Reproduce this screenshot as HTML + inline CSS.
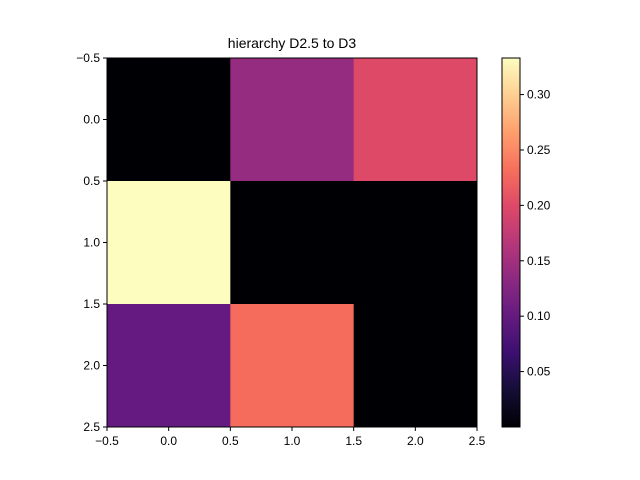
<!DOCTYPE html>
<html><head><meta charset="utf-8"><style>body{margin:0;background:#fff}svg{display:block;font-family:"Liberation Sans","DejaVu Sans",sans-serif}</style></head>
<body>
<svg id="c" width="640" height="480"></svg>
<script>
const rowsLabels = [0, 1, 2];
const colsLabels = [0, 1, 2];
const values = [
  [0.0, 0.14, 0.20],
  [0.333, 0.0, 0.0],
  [0.10, 0.23, 0.0]
];
const xTicks = [-0.5, 0.0, 0.5, 1.0, 1.5, 2.0, 2.5];
const yTicks = [-0.5, 0.0, 0.5, 1.0, 1.5, 2.0, 2.5];
const cbTicks = [0.05, 0.10, 0.15, 0.20, 0.25, 0.30];
const titleText = "hierarchy D2.5 to D3";

const NS = "http://www.w3.org/2000/svg";
const svg = document.getElementById('c');
function mk(tag, attrs, parent){const e=document.createElementNS(NS,tag);for(const k in attrs)e.setAttribute(k,attrs[k]);(parent||svg).appendChild(e);return e;}
const L=107,R=477,T=58,B=427;
const sx=v=>L+(v+0.5)/3*(R-L);
const sy=v=>T+(v+0.5)/3*(B-T);
let vmin=Infinity,vmax=-Infinity;values.forEach(r=>r.forEach(v=>{vmin=Math.min(vmin,v);vmax=Math.max(vmax,v);}));
const magma=["000004","140e36","3b0f70","641a80","8c2981","b73779","de4968","f7705c","fe9f6d","fecf92","fcfdbf"].map(h=>[parseInt(h.slice(0,2),16),parseInt(h.slice(2,4),16),parseInt(h.slice(4,6),16)]);
function cmap(t){t=Math.max(0,Math.min(1,t))*10;const i=Math.min(9,Math.floor(t)),f=t-i;const a=magma[i],b=magma[i+1];return `rgb(${a.map((v,k)=>Math.round(v+(b[k]-v)*f)).join(',')})`;}
values.forEach((row,r)=>row.forEach((v,c)=>{
  const e=mk('rect',{x:sx(c-0.5),y:sy(r-0.5),width:sx(c+0.5)-sx(c-0.5)+0.5,height:sy(r+0.5)-sy(r-0.5)+0.5,fill:cmap((v-vmin)/(vmax-vmin))});
  
  
}));
mk('rect',{x:L,y:T,width:R-L,height:B-T,fill:'none',stroke:'#000','stroke-width':1});
xTicks.forEach(t=>{const x=sx(t);mk('line',{x1:x,x2:x,y1:B,y2:B+4,stroke:'#000'});
  const e=mk('text',{x:x,y:B+18,'text-anchor':'middle','font-size':12});e.textContent=t.toFixed(1);
  });
yTicks.forEach(t=>{const y=sy(t);mk('line',{x1:L-4,x2:L,y1:y,y2:y,stroke:'#000'});
  const e=mk('text',{x:L-7,y:y+4,'text-anchor':'end','font-size':12});e.textContent=t.toFixed(1);
  });
svg.querySelectorAll('text').forEach(t=>{t.textContent=t.textContent.replace('-','−');});
const ti=mk('text',{x:(L+R)/2,y:48,'text-anchor':'middle','font-size':14});ti.textContent=titleText;

const CL=502,CR=520;
const cy=v=>B-(v-vmin)/(vmax-vmin)*(B-T);
const defs=mk('defs',{});const g=mk('linearGradient',{id:'g',x1:0,y1:1,x2:0,y2:0},defs);
for(let i=0;i<=20;i++)mk('stop',{offset:i/20,'stop-color':cmap(i/20)},g);
const cb=mk('rect',{x:CL,y:T,width:CR-CL,height:B-T,fill:'url(#g)',stroke:'#000','stroke-width':1});

cbTicks.forEach(t=>{const y=cy(t);mk('line',{x1:CR,x2:CR+4,y1:y,y2:y,stroke:'#000'});
  const e=mk('text',{x:CR+7,y:y+4,'font-size':12});e.textContent=t.toFixed(2);
  });
</script>
</body></html>
